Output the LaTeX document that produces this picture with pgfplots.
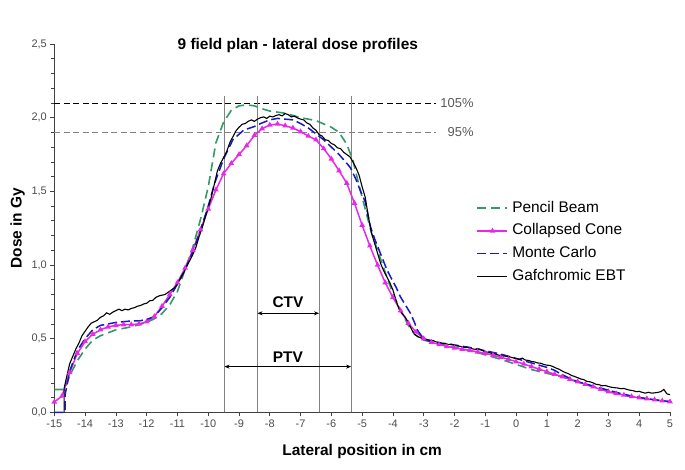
\documentclass[border=0pt]{standalone}
\usepackage{fontspec}
\setmainfont{Liberation Sans}
\usepackage{pgfplots}
\pgfplotsset{compat=1.18}
\usetikzlibrary{arrows.meta}

\definecolor{pbgreen}{RGB}{51,153,102}
\definecolor{ccmag}{RGB}{232,40,232}
\definecolor{mcblue}{RGB}{25,25,190}
\definecolor{refgray}{RGB}{130,130,130}

\begin{document}
\begin{tikzpicture}
\useasboundingbox (0,0) rectangle (685bp,470bp);
\begin{axis}[
    at={(54.3bp,57.7bp)}, anchor=south west,
    scale only axis, width=615.7bp, height=368.3bp,
    xmin=-15, xmax=5, ymin=0, ymax=2.5,
    clip=false,
    axis lines*=left,
    axis line style={black!75, line width=0.6bp},
    tick align=outside,
    major tick length=4bp, minor tick length=3bp,
    tick style={black!75, line width=0.6bp},
    xtick={-15,-14,-13,-12,-11,-10,-9,-8,-7,-6,-5,-4,-3,-2,-1,0,1,2,3,4,5},
    ytick={0,0.5,1,1.5,2,2.5},
    minor y tick num=4,
    /pgf/number format/assume math mode=true,
    ticklabel style={font=\fontsize{11}{13}\selectfont, text=black!70},
    yticklabel style={/pgf/number format/.cd, use comma, fixed, fixed zerofill, precision=1},
    xlabel={Lateral position in cm},
    ylabel={Dose in Gy},
    xlabel style={at={(axis description cs:0.5,-0.107)}, anchor=center, font=\bfseries\fontsize{15.5}{18}\selectfont},
    ylabel style={at={(axis description cs:-0.0595,0.5)}, anchor=center, font=\bfseries\fontsize{15.5}{18}\selectfont},
    legend style={at={(axis description cs:0.686,0.573)}, anchor=north west, draw=none, fill=none,
        inner sep=0pt, outer sep=0pt, row sep=8.7bp,
        font=\fontsize{15.5}{18}\selectfont,
        nodes={inner sep=0pt, text height=11bp, text depth=3bp},
        /tikz/every odd column/.style={column sep=4bp}},
    legend cell align=left,
    legend image code/.code={\draw[mark repeat=2,mark phase=2,#1] plot coordinates {(0bp,0bp) (15bp,0bp) (30bp,0bp)};},
]
% reference levels and target limits
\addplot[black, line width=0.7bp, dash pattern=on 6bp off 3.5bp, forget plot] coordinates {(-15,2.1) (-2.6,2.1)};
\addplot[refgray, line width=0.9bp, dash pattern=on 6bp off 3.5bp, forget plot] coordinates {(-15,1.9) (-2.6,1.9)};
\addplot[refgray, line width=0.7bp, forget plot] coordinates {(-9.47,0) (-9.47,2.15)};
\addplot[refgray, line width=0.7bp, forget plot] coordinates {(-8.40,0) (-8.40,2.15)};
\addplot[refgray, line width=0.7bp, forget plot] coordinates {(-6.40,0) (-6.40,2.15)};
\addplot[refgray, line width=0.7bp, forget plot] coordinates {(-5.36,0) (-5.36,2.15)};

% Pencil Beam
\addplot[pbgreen, line width=1.6bp, dash pattern=on 9bp off 5bp] table {%
-15.0 0.155
-14.7 0.155
-14.6 0.19
-14.5 0.25
-14.25 0.35
-14.0 0.43
-13.75 0.49
-13.5 0.52
-13.25 0.54
-13.0 0.56
-12.75 0.57
-12.5 0.58
-12.25 0.595
-12.0 0.61
-11.75 0.635
-11.5 0.67
-11.25 0.73
-11.0 0.82
-10.75 0.97
-10.5 1.12
-10.25 1.31
-10.0 1.53
-9.75 1.83
-9.5 1.97
-9.25 2.05
-9.0 2.08
-8.75 2.087
-8.5 2.08
-8.25 2.06
-8.0 2.045
-7.5 2.03
-7.0 2.0
-6.5 1.98
-6.0 1.935
-5.75 1.9
-5.5 1.82
-5.3 1.71
-5.1 1.54
-4.9 1.38
-4.7 1.22
-4.5 1.10
-4.3 0.98
-4.1 0.86
-3.9 0.76
-3.7 0.67
-3.5 0.59
-3.3 0.53
-3.1 0.50
-3.0 0.49
-2.5 0.465
-2.0 0.44
-1.5 0.42
-1.0 0.39
-0.5 0.36
0.0 0.325
0.5 0.29
1.0 0.265
1.5 0.24
2.0 0.205
2.5 0.175
3.0 0.14
3.5 0.115
4.0 0.097
4.5 0.083
5.0 0.072
};
\addlegendentry{Pencil Beam}

% Collapsed Cone
\addplot[ccmag, line width=1.5bp, mark=triangle*, mark size=1.8bp, mark options={solid}] table {%
-15.0 0.07
-14.75 0.11
-14.5 0.27
-14.25 0.40
-14.0 0.48
-13.75 0.53
-13.5 0.56
-13.25 0.58
-13.0 0.59
-12.75 0.595
-12.5 0.595
-12.25 0.60
-12.0 0.615
-11.75 0.65
-11.5 0.72
-11.25 0.80
-11.0 0.88
-10.75 0.98
-10.5 1.10
-10.25 1.24
-10.0 1.38
-9.75 1.51
-9.5 1.62
-9.25 1.69
-9.0 1.75
-8.75 1.81
-8.5 1.88
-8.25 1.925
-8.0 1.95
-7.75 1.957
-7.5 1.945
-7.25 1.93
-7.0 1.905
-6.75 1.875
-6.5 1.85
-6.25 1.79
-6.0 1.72
-5.75 1.64
-5.5 1.555
-5.25 1.42
-5.0 1.27
-4.75 1.13
-4.5 1.00
-4.25 0.88
-4.0 0.78
-3.75 0.69
-3.5 0.605
-3.25 0.545
-3.0 0.50
-2.75 0.475
-2.5 0.46
-2.25 0.447
-2.0 0.437
-1.75 0.428
-1.5 0.42
-1.25 0.41
-1.0 0.40
-0.75 0.388
-0.5 0.374
-0.25 0.36
0.0 0.344
0.25 0.328
0.5 0.31
0.75 0.293
1.0 0.276
1.25 0.259
1.5 0.242
1.75 0.225
2.0 0.208
2.25 0.19
2.5 0.173
2.75 0.156
3.0 0.14
3.25 0.128
3.5 0.117
3.75 0.107
4.0 0.099
4.25 0.092
4.5 0.085
4.75 0.078
5.0 0.072
};
\addlegendentry{Collapsed Cone}

% Monte Carlo
\addplot[mcblue, line width=1.5bp, dash pattern=on 9bp off 4bp] table {%
-15.0 0
-14.65 0
-14.65 0.12
-14.6 0.17
-14.5 0.28
-14.25 0.42
-14.0 0.50
-13.75 0.56
-13.5 0.59
-13.25 0.60
-13.0 0.61
-12.75 0.615
-12.5 0.62
-12.25 0.62
-12.0 0.63
-11.75 0.65
-11.5 0.71
-11.25 0.78
-11.0 0.87
-10.75 0.97
-10.5 1.09
-10.25 1.24
-10.0 1.40
-9.8 1.55
-9.5 1.72
-9.2 1.85
-8.85 1.915
-8.5 1.94
-8.3 1.96
-8.0 1.985
-7.75 1.995
-7.5 1.99
-7.25 1.985
-7.0 1.96
-6.75 1.93
-6.5 1.89
-6.25 1.85
-6.0 1.80
-5.75 1.75
-5.5 1.69
-5.38 1.66
-5.2 1.58
-5.05 1.50
-4.9 1.43
-4.73 1.26
-4.6 1.18
-4.41 1.08
-4.2 0.97
-4.08 0.92
-3.9 0.85
-3.76 0.785
-3.6 0.73
-3.43 0.672
-3.3 0.61
-3.21 0.559
-3.05 0.513
-3.0 0.495
-2.75 0.48
-2.5 0.47
-2.25 0.465
-2.0 0.457
-1.5 0.44
-1.0 0.418
-0.5 0.395
0.0 0.366
0.25 0.35
0.5 0.335
0.75 0.32
1.0 0.305
1.25 0.285
1.5 0.255
1.75 0.23
2.0 0.208
2.5 0.178
3.0 0.15
3.5 0.122
4.0 0.10
4.5 0.085
5.0 0.072
};
\addlegendentry{Monte Carlo}

% Gafchromic EBT film
\addplot[black, line width=1.1bp] table {%
-14.68 0
-14.68 0.163
-14.6 0.24
-14.5 0.33
-14.4 0.38
-14.3 0.43
-14.2 0.47
-14.1 0.52
-14.0 0.55
-13.9 0.58
-13.8 0.605
-13.7 0.615
-13.6 0.625
-13.5 0.645
-13.4 0.655
-13.3 0.675
-13.2 0.665
-13.1 0.68
-13.0 0.69
-12.9 0.70
-12.8 0.69
-12.7 0.70
-12.6 0.695
-12.5 0.705
-12.4 0.71
-12.3 0.72
-12.2 0.725
-12.1 0.735
-12.0 0.74
-11.9 0.757
-11.8 0.76
-11.7 0.78
-11.6 0.79
-11.5 0.795
-11.4 0.80
-11.3 0.815
-11.2 0.83
-11.1 0.845
-11.0 0.87
-10.9 0.91
-10.8 0.945
-10.7 0.99
-10.6 1.03
-10.5 1.07
-10.4 1.12
-10.3 1.19
-10.2 1.25
-10.1 1.32
-10.0 1.39
-9.9 1.46
-9.8 1.55
-9.7 1.64
-9.6 1.69
-9.5 1.73
-9.4 1.77
-9.3 1.83
-9.2 1.87
-9.1 1.91
-9.0 1.935
-8.9 1.955
-8.8 1.96
-8.7 1.975
-8.6 1.985
-8.5 1.975
-8.4 1.99
-8.3 2.0
-8.2 2.005
-8.1 1.995
-8.0 2.01
-7.9 2.005
-7.8 2.015
-7.7 2.02
-7.6 2.012
-7.5 2.028
-7.4 2.02
-7.3 2.005
-7.2 2.01
-7.1 1.998
-7.0 1.99
-6.9 1.985
-6.8 1.965
-6.7 1.955
-6.6 1.93
-6.5 1.915
-6.4 1.885
-6.3 1.875
-6.2 1.85
-6.1 1.845
-6.0 1.825
-5.9 1.815
-5.8 1.795
-5.7 1.79
-5.6 1.765
-5.5 1.75
-5.4 1.735
-5.3 1.70
-5.2 1.66
-5.1 1.61
-5.0 1.53
-4.9 1.46
-4.8 1.33
-4.7 1.22
-4.6 1.15
-4.5 1.08
-4.4 1.01
-4.3 0.96
-4.2 0.92
-4.1 0.88
-4.0 0.83
-3.9 0.76
-3.8 0.70
-3.7 0.67
-3.6 0.645
-3.5 0.61
-3.4 0.565
-3.3 0.53
-3.2 0.515
-3.1 0.505
-3.0 0.50
-2.9 0.495
-2.8 0.49
-2.7 0.488
-2.6 0.478
-2.5 0.475
-2.4 0.468
-2.3 0.468
-2.2 0.46
-2.1 0.462
-2.0 0.455
-1.9 0.45
-1.8 0.447
-1.7 0.44
-1.6 0.442
-1.5 0.435
-1.4 0.43
-1.3 0.427
-1.2 0.43
-1.1 0.42
-1.0 0.41
-0.9 0.408
-0.8 0.40
-0.7 0.397
-0.6 0.39
-0.5 0.385
-0.4 0.382
-0.3 0.38
-0.2 0.376
-0.1 0.37
0.0 0.365
0.1 0.36
0.2 0.368
0.3 0.355
0.4 0.352
0.5 0.345
0.6 0.342
0.7 0.335
0.8 0.333
0.9 0.325
1.0 0.32
1.1 0.318
1.2 0.31
1.3 0.30
1.4 0.292
1.5 0.28
1.6 0.27
1.7 0.262
1.8 0.25
1.9 0.243
2.0 0.235
2.1 0.226
2.2 0.222
2.3 0.21
2.4 0.207
2.5 0.20
2.6 0.19
2.7 0.187
2.8 0.18
2.9 0.182
3.0 0.175
3.1 0.17
3.2 0.167
3.3 0.165
3.4 0.16
3.5 0.162
3.6 0.155
3.7 0.15
3.8 0.147
3.9 0.14
4.0 0.142
4.1 0.135
4.2 0.13
4.3 0.136
4.4 0.13
4.5 0.132
4.6 0.135
4.7 0.14
4.8 0.155
4.9 0.125
5.0 0.12
};
\addlegendentry{Gafchromic EBT}

% annotations
\draw[black, line width=0.7bp, {Stealth[length=5bp,width=4bp]}-{Stealth[length=5bp,width=4bp]}] (axis cs:-8.40,0.672) -- (axis cs:-6.40,0.672);
\draw[black, line width=0.7bp, {Stealth[length=5bp,width=4bp]}-{Stealth[length=5bp,width=4bp]}] (axis cs:-9.47,0.31) -- (axis cs:-5.36,0.31);
\node[font=\bfseries\fontsize{15.5}{18}\selectfont] at (axis cs:-7.41,0.747) {CTV};
\node[font=\bfseries\fontsize{15.5}{18}\selectfont] at (axis cs:-7.41,0.377) {PTV};
\node[anchor=east, text=black!65, inner sep=0pt, font=\fontsize{13}{15}\selectfont] at (axis cs:-1.374,2.1) {105\%};
\node[anchor=east, text=black!65, inner sep=0pt, font=\fontsize{13}{15}\selectfont] at (axis cs:-1.374,1.9) {95\%};
\node[anchor=base, font=\bfseries\fontsize{15.5}{18}\selectfont] at (axis cs:-7.09,2.462) {9 field plan - lateral dose profiles};
\end{axis}
\end{tikzpicture}
\end{document}
